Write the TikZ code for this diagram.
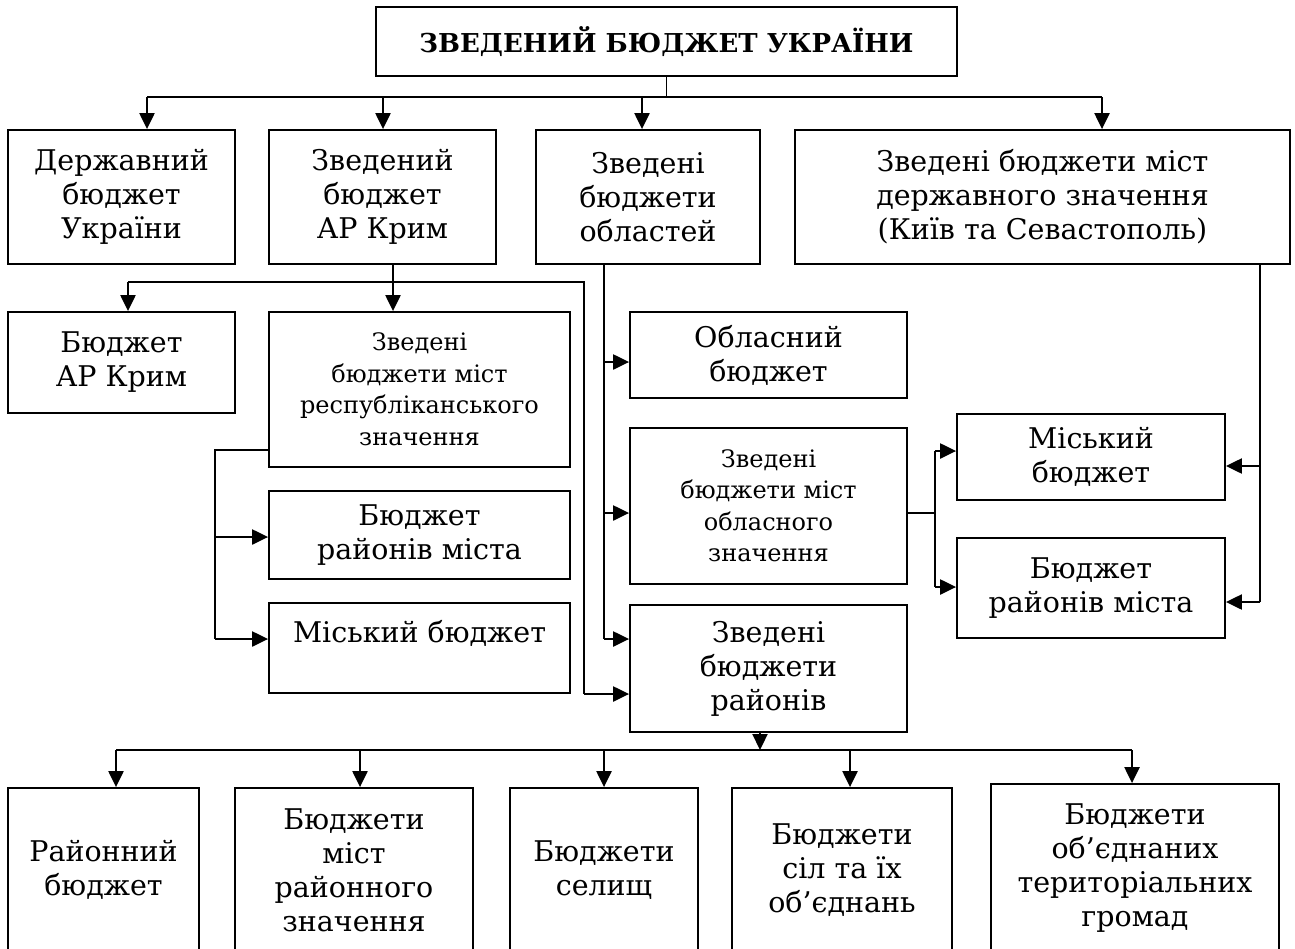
\documentclass[tikz,border=0pt]{standalone}
\usepackage{fontspec}
\setmainfont{DejaVu Serif}
\usetikzlibrary{arrows.meta}
\begin{document}
\begin{tikzpicture}[x=1pt,y=-1pt,
 box/.style={draw, line width=1.8pt, align=center, inner sep=2pt, font=\fontsize{28.5}{34}\selectfont},
 sbox/.style={box, font=\fontsize{24}{31.5}\selectfont},
 ln/.style={line width=2pt},
 thn/.style={line width=1.3pt},
 arr/.style={line width=2.2pt, -{Triangle[length=16pt,width=15pt]}}]
\useasboundingbox (0,0) rectangle (1295,948);

\node[box, minimum width=581pt, minimum height=69pt, font=\fontsize{26}{30}\selectfont\bfseries] (top) at (666.5,41.5) {ЗВЕДЕНИЙ БЮДЖЕТ УКРАЇНИ};

\node[box, minimum width=227pt, minimum height=134pt] (derzh) at (121.5,197) {Державний\\бюджет\\України};
\node[box, minimum width=227pt, minimum height=134pt] (krym) at (382.5,197) {Зведений\\бюджет\\АР Крим};
\node[box, minimum width=224pt, minimum height=134pt] (obl) at (648,197) {Зведені\\бюджети\\областей};
\node[box, minimum width=495pt, minimum height=134pt] (mdz) at (1042.5,197) {Зведені бюджети міст\\державного значення\\(Київ та Севастополь)};

\node[box, minimum width=227pt, minimum height=101pt] (bkrym) at (121.5,362.5) {Бюджет\\АР Крим};
\node[sbox, minimum width=301pt, minimum height=155pt] (resp) at (419.5,389.5) {Зведені\\бюджети міст\\республіканського\\значення};
\node[box, minimum width=301pt, minimum height=88pt] (brm1) at (419.5,535) {Бюджет\\районів міста};
\node[box, minimum width=301pt, minimum height=90pt] (mb1) at (419.5,648) {Міський бюджет\\\mbox{}};

\node[box, minimum width=277pt, minimum height=86pt] (oblb) at (768.5,355) {Обласний\\бюджет};
\node[sbox, minimum width=277pt, minimum height=156pt] (moz) at (768.5,506) {Зведені\\бюджети міст\\обласного\\значення};
\node[box, minimum width=277pt, minimum height=127pt] (rai) at (768.5,668.5) {Зведені\\бюджети\\районів};

\node[box, minimum width=268pt, minimum height=86pt] (mb2) at (1091,457) {Міський\\бюджет};
\node[box, minimum width=268pt, minimum height=100pt] (brm2) at (1091,588) {Бюджет\\районів міста};

\node[box, minimum width=191pt, minimum height=164pt] (b1) at (103.5,870) {Районний\\бюджет};
\node[box, minimum width=238pt, minimum height=164pt] (b2) at (354,870) {Бюджети\\міст\\районного\\значення};
\node[box, minimum width=188pt, minimum height=164pt] (b3) at (604,870) {Бюджети\\селищ};
\node[box, minimum width=220pt, minimum height=164pt] (b4) at (842,870) {Бюджети\\сіл та їх\\об’єднань};
\node[box, minimum width=288pt, minimum height=168pt] (b5) at (1135,868) {Бюджети\\об’єднаних\\територіальних\\громад};

% top level
\coordinate (bus) at (665,97);
\draw[thn] (top.south) -- (top.south |- bus);
\draw[ln] (147,97) -- (1102,97);
\draw[arr] (147,97) -- (147,0 |- derzh.north);
\draw[arr] (383,97) -- (383,0 |- krym.north);
\draw[arr] (642,97) -- (642,0 |- obl.north);
\draw[arr] (1102,97) -- (1102,0 |- mdz.north);

% Krym branch
\draw[arr] (393,0 |- krym.south) -- (393,0 |- resp.north);
\draw[ln] (128,282) -- (584,282) -- (584,694);
\draw[arr] (128,282) -- (128,0 |- bkrym.north);
\draw[arr] (584,694) -- (rai.west |- 0,694);

\draw[thn] (resp.west |- 0,450) -- (215,450) -- (215,639);
\draw[arr] (215,537) -- (brm1.west |- 0,537);
\draw[arr] (215,639) -- (mb1.west |- 0,639);

% oblasti branch
\draw[thn] (604,0 |- obl.south) -- (604,639);
\draw[arr] (604,362) -- (oblb.west |- 0,362);
\draw[arr] (604,513) -- (moz.west |- 0,513);
\draw[arr] (604,639) -- (rai.west |- 0,639);

\draw[thn] (moz.east |- 0,513) -- (935,513);
\draw[thn] (935,451) -- (935,587);
\draw[arr] (935,451) -- (mb2.west |- 0,451);
\draw[arr] (935,587) -- (brm2.west |- 0,587);

% cities of state significance
\draw[thn] (1260,0 |- mdz.south) -- (1260,602);
\draw[arr] (1260,466) -- (mb2.east |- 0,466);
\draw[arr] (1260,602) -- (brm2.east |- 0,602);

% districts
\draw[arr] (760,0 |- rai.south) -- (760,750);
\draw[ln] (116,750) -- (1132,750);
\draw[arr] (116,750) -- (116,0 |- b1.north);
\draw[arr] (360,750) -- (360,0 |- b2.north);
\draw[arr] (604,750) -- (604,0 |- b3.north);
\draw[arr] (850,750) -- (850,0 |- b4.north);
\draw[arr] (1132,750) -- (1132,0 |- b5.north);
\end{tikzpicture}
\end{document}
